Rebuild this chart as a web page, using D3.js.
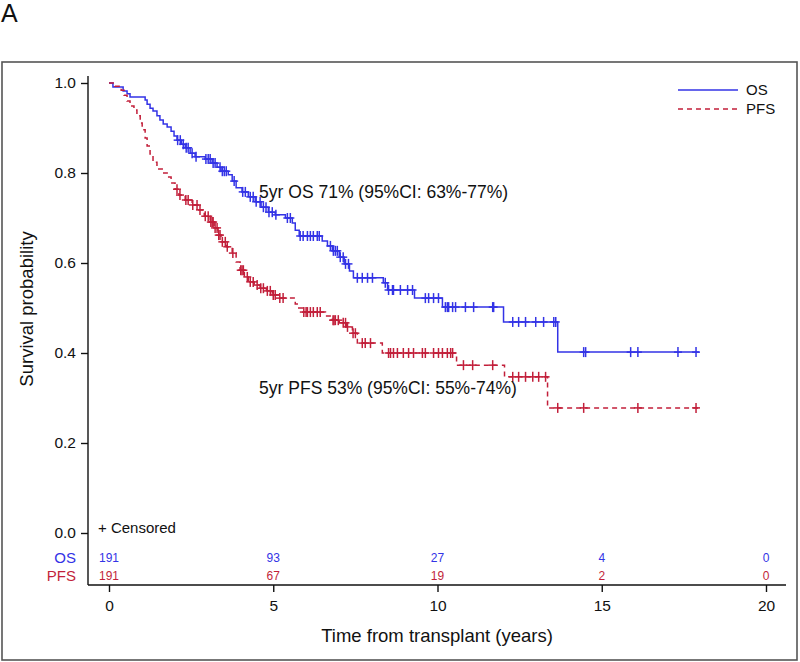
<!DOCTYPE html>
<html><head><meta charset="utf-8">
<script src="https://cdn.jsdelivr.net/npm/d3@7"></script>
<style>body{margin:0;background:#fff}svg{display:block}text{font-family:"Liberation Sans",Arial,Helvetica,sans-serif}</style>
</head><body>
<script>
// ---- data ----
const xTicks = [0, 5, 10, 15, 20];
const yTicks = [0.0, 0.2, 0.4, 0.6, 0.8, 1.0];
const seriesNames = ["OS", "PFS"];
const osEndTime = 17.96;
const pfsEndTime = 17.96;
const osStepTimes = [0.12,0.43,0.55,0.64,1.10,1.16,1.25,1.34,1.46,1.55,1.65,1.77,1.89,1.98,2.07,2.20,2.32,2.47,2.62,2.93,3.14,3.29,3.41,3.63,3.75,3.87,4.05,4.24,4.45,4.63,4.85,5.06,5.37,5.58,5.67,5.79,6.49,6.65,6.80,7.01,7.16,7.32,7.44,8.35,8.48,9.30,10.15,12.01,13.66];
const osStepSurv  = [0.991,0.982,0.976,0.969,0.962,0.953,0.944,0.938,0.927,0.918,0.909,0.902,0.893,0.882,0.873,0.864,0.856,0.844,0.836,0.831,0.822,0.813,0.804,0.796,0.782,0.767,0.758,0.747,0.736,0.724,0.713,0.707,0.700,0.689,0.673,0.660,0.649,0.638,0.627,0.613,0.598,0.582,0.567,0.556,0.540,0.522,0.502,0.469,0.402];
const osCensor = [2.09,2.17,2.26,2.35,2.41,2.53,2.65,2.95,3.02,3.08,3.17,3.23,3.38,3.45,3.51,3.57,3.81,4.07,4.15,4.30,4.39,4.48,4.60,4.70,4.78,4.87,4.97,5.08,5.43,5.52,5.82,5.91,6.04,6.13,6.22,6.34,6.40,6.74,6.83,6.89,6.95,7.04,7.13,7.20,7.29,7.56,7.71,7.87,8.02,8.41,8.51,8.63,8.66,8.87,9.09,9.24,9.63,9.73,9.88,10.03,10.24,10.30,10.34,10.46,10.55,10.85,11.10,11.68,11.71,12.29,12.47,12.68,12.99,13.23,13.54,13.60,14.45,14.51,15.88,16.10,17.32,17.87];
const pfsStepTimes = [0.18,0.37,0.46,0.55,0.64,0.76,0.85,0.95,1.01,1.10,1.16,1.25,1.34,1.46,1.62,1.77,1.89,2.01,2.13,2.32,2.53,2.71,2.90,3.08,3.20,3.32,3.41,3.57,3.75,3.87,3.99,4.12,4.24,4.42,4.60,4.79,4.97,5.18,5.67,5.73,5.91,6.59,6.80,7.01,7.23,7.41,7.56,8.32,10.58,12.04,13.35];
const pfsStepSurv  = [0.993,0.984,0.973,0.960,0.949,0.940,0.927,0.911,0.896,0.878,0.860,0.842,0.824,0.809,0.800,0.791,0.778,0.764,0.751,0.740,0.729,0.718,0.704,0.691,0.678,0.662,0.647,0.636,0.622,0.602,0.584,0.569,0.558,0.551,0.544,0.538,0.529,0.522,0.509,0.500,0.491,0.482,0.473,0.467,0.458,0.444,0.422,0.400,0.373,0.347,0.278];
const pfsCensor = [2.07,2.16,2.34,2.41,2.55,2.68,2.77,2.93,3.02,3.10,3.14,3.17,3.23,3.29,3.34,3.38,3.45,3.54,3.60,3.77,4.01,4.05,4.09,4.21,4.30,4.39,4.51,4.62,4.70,4.82,4.91,5.00,5.06,5.20,5.30,5.93,6.00,6.04,6.13,6.22,6.34,6.43,6.82,6.85,6.89,6.98,7.13,7.20,7.26,7.43,7.50,7.71,7.80,7.96,8.51,8.57,8.66,8.78,8.96,9.12,9.27,9.54,9.63,9.88,10.03,10.15,10.30,10.40,10.46,10.79,11.07,11.68,12.29,12.47,12.68,12.90,13.08,13.29,13.66,14.45,16.10,17.87];
const atRiskOS  = [191, 93, 27, 4, 0];
const atRiskPFS = [191, 67, 19, 2, 0];
const annotOS  = "5yr OS 71% (95%CI: 63%-77%)";
const annotPFS = "5yr PFS 53% (95%CI: 55%-74%)";
const annotOSAt  = [4.57, 0.745];
const annotPFSAt = [4.57, 0.31];

// ---- drawing ----
const W = 800, H = 662;
const blue = "#3333e6", red = "#c21f3a";
const svg = d3.select("body").append("svg").attr("width", W).attr("height", H);
const x = d3.scaleLinear().domain([0, 20]).range([109, 766]);
const y = d3.scaleLinear().domain([0, 1]).range([533, 83]);

svg.append("text").attr("x", 1).attr("y", 22).attr("font-size", 25).attr("fill", "#111").text("A");
svg.append("rect").attr("x", 2).attr("y", 62).attr("width", 795).attr("height", 598)
  .attr("fill", "none").attr("stroke", "#555").attr("stroke-width", 1.6);

// axes
const yAxis = svg.append("g").attr("transform", "translate(88,0)")
  .call(d3.axisLeft(y).tickValues(yTicks).tickFormat(d3.format(".1f")).tickSize(7).tickSizeOuter(0).tickPadding(5));
yAxis.select(".domain").remove();
svg.append("line").attr("x1", 88).attr("x2", 88).attr("y1", 76).attr("y2", 585).attr("stroke", "#111").attr("stroke-width", 1.4);
const xAxis = svg.append("g").attr("transform", "translate(0,585)")
  .call(d3.axisBottom(x).tickValues(xTicks).tickSize(7).tickSizeOuter(0).tickPadding(8));
xAxis.select(".domain").remove();
svg.append("line").attr("x1", 88).attr("x2", 786).attr("y1", 585).attr("y2", 585).attr("stroke", "#111").attr("stroke-width", 1.4);
[yAxis, xAxis].forEach(g => {
  g.selectAll("text").attr("font-size", 15.5).attr("fill", "#111").attr("font-family", '"Liberation Sans",Arial,sans-serif');
  g.selectAll("line").attr("stroke", "#111").attr("stroke-width", 1.4);
});

svg.append("text").attr("x", 437).attr("y", 642).attr("text-anchor", "middle").attr("font-size", 18.5).attr("fill", "#111")
  .text("Time from transplant (years)");
svg.append("text").attr("transform", "translate(33,309) rotate(-90)").attr("text-anchor", "middle").attr("font-size", 18.5).attr("fill", "#111")
  .text("Survival probability");

// curves
function stepData(times, surv, end) {
  const pts = [[0, 1]];
  times.forEach((t, i) => pts.push([t, surv[i]]));
  pts.push([end, surv[surv.length - 1]]);
  return pts;
}
function survAt(times, surv, t) {
  let s = 1;
  for (let i = 0; i < times.length; i++) if (times[i] <= t) s = surv[i];
  return s;
}
const line = d3.line().x(d => x(d[0])).y(d => y(d[1])).curve(d3.curveStepAfter);
const series = [
  {name: "OS", times: osStepTimes, surv: osStepSurv, end: osEndTime, cens: osCensor, color: blue, dash: null},
  {name: "PFS", times: pfsStepTimes, surv: pfsStepSurv, end: pfsEndTime, cens: pfsCensor, color: red, dash: "5,4"}
];
series.forEach(s => {
  svg.append("path").datum(stepData(s.times, s.surv, s.end)).attr("d", line)
    .attr("fill", "none").attr("stroke", s.color).attr("stroke-width", 1.5)
    .attr("stroke-dasharray", s.dash);
  const g = svg.append("g").attr("stroke", s.color).attr("stroke-width", 1.5);
  s.cens.forEach(t => {
    const cx = x(t), cy = y(survAt(s.times, s.surv, t));
    g.append("line").attr("x1", cx).attr("x2", cx).attr("y1", cy - 5).attr("y2", cy + 5);
    g.append("line").attr("x1", cx - 4).attr("x2", cx + 4).attr("y1", cy).attr("y2", cy);
  });
});

// annotations
svg.append("text").attr("x", x(annotOSAt[0])).attr("y", y(annotOSAt[1])).attr("font-size", 17.5).attr("fill", "#111").text(annotOS);
svg.append("text").attr("x", x(annotPFSAt[0])).attr("y", y(annotPFSAt[1])).attr("font-size", 17.5).attr("fill", "#111").text(annotPFS);

// legend
const leg = svg.append("g");
series.forEach((s, i) => {
  const ly = 90 + i * 19;
  leg.append("line").attr("x1", 678).attr("x2", 738).attr("y1", ly).attr("y2", ly)
    .attr("stroke", s.color).attr("stroke-width", 1.5).attr("stroke-dasharray", s.dash);
  leg.append("text").attr("x", 746).attr("y", ly).attr("dy", "0.36em").attr("font-size", 15).attr("fill", "#111").text(s.name);
});

// censored note
svg.append("text").attr("x", 98).attr("y", 528).attr("dy", "0.36em").attr("font-size", 15).attr("fill", "#111").text("+ Censored");

// at-risk table
const riskRows = [{name: seriesNames[0], vals: atRiskOS, color: blue, y: 558}, {name: seriesNames[1], vals: atRiskPFS, color: red, y: 576}];
riskRows.forEach(r => {
  svg.append("text").attr("x", 76).attr("y", r.y).attr("dy", "0.36em").attr("text-anchor", "end")
    .attr("font-size", 15).attr("fill", r.color).text(r.name);
  r.vals.forEach((v, i) => {
    svg.append("text").attr("x", x(xTicks[i])).attr("y", r.y).attr("dy", "0.36em").attr("text-anchor", "middle")
      .attr("font-size", 12).attr("fill", r.color).text(v);
  });
});
</script>
</body></html>
